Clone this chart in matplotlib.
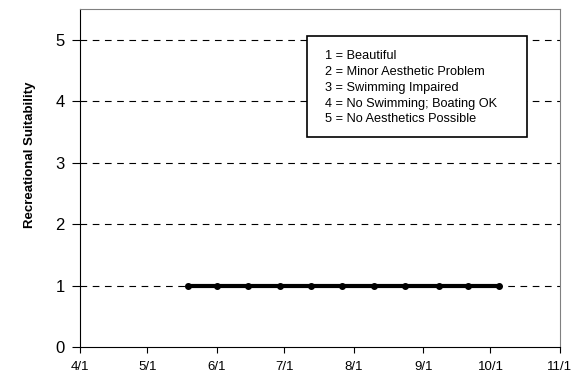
import numpy as np
import pandas as pd
import matplotlib
matplotlib.use("Agg")
import matplotlib.pyplot as plt
from matplotlib.patches import Rectangle

plt.rcParams['font.family'] = ['Liberation Sans', 'DejaVu Sans']

# sampling dates and recreational suitability ratings
dates = pd.to_datetime(["2004-05-19", "2004-06-01", "2004-06-15", "2004-06-29",
                        "2004-07-13", "2004-07-27", "2004-08-10", "2004-08-24",
                        "2004-09-08", "2004-09-21", "2004-10-05"])
suitability = [1, 1, 1, 1, 1, 1, 1, 1, 1, 1, 1]

month_ticks = pd.to_datetime(["2004-04-01", "2004-05-01", "2004-06-01", "2004-07-01",
                              "2004-08-01", "2004-09-01", "2004-10-01", "2004-11-01"])
scale_text = ["1 = Beautiful", "2 = Minor Aesthetic Problem", "3 = Swimming Impaired",
              "4 = No Swimming; Boating OK", "5 = No Aesthetics Possible"]

fig = plt.figure(figsize=(5.86, 3.77), dpi=100)
ax = fig.add_axes([80 / 586, 1 - 347 / 377, 480 / 586, 338 / 377])

for y in range(1, 6):
    ax.axhline(y, color='black', lw=0.8, ls=(0, (6, 5)), zorder=1)

ax.plot(dates, suitability, color='black', lw=3.0, marker='o', ms=4, zorder=3)

ax.set_xlim(month_ticks[0], month_ticks[-1])
ax.set_ylim(0, 5.5)
ax.set_xticks(month_ticks)
ax.set_xticklabels([f"{d.month}/{d.day}" for d in month_ticks], fontsize=9.5)
ax.set_yticks(range(0, 6))
ax.tick_params(axis='y', labelsize=12, length=6, width=0.8, pad=5)
ax.tick_params(axis='x', length=4, width=0.8, pad=6)
ax.set_ylabel("Recreational Suitability", fontsize=9.5, fontweight='bold')
ax.yaxis.set_label_coords(-0.092, 0.568)

for s in ['top', 'right']:
    ax.spines[s].set_color('#808080')
    ax.spines[s].set_linewidth(0.8)
for s in ['left', 'bottom']:
    ax.spines[s].set_color('black')
    ax.spines[s].set_linewidth(0.8)

# rating scale key
ax.add_patch(Rectangle((0.473, 0.621), 0.458, 0.299, transform=ax.transAxes,
                       facecolor='white', edgecolor='black', lw=1.2, zorder=4))
ax.text(0.51, 0.878, "\n".join(scale_text), transform=ax.transAxes, fontsize=9.2,
        va='top', ha='left', linespacing=1.42, zorder=5)

fig.savefig("out.png", dpi=100)
